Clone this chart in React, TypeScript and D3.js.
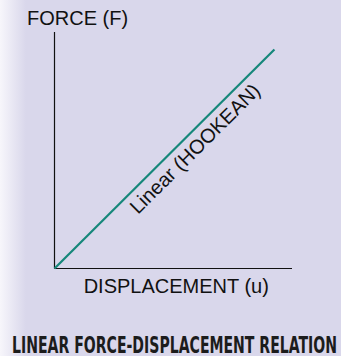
import React from "react";
import { scaleLinear, line } from "d3";

// displacement u and force F of the linear (Hookean) spring
const displacement = [0, 1];
const force = [0, 1];
const curveLabel = "Linear (HOOKEAN)";
const yLabel = "FORCE (F)";
const xLabel = "DISPLACEMENT (u)";
const caption = "LINEAR FORCE-DISPLACEMENT RELATION";

const W = 341;
const H = 356;

export default function App() {
  const x = scaleLinear().domain([0, 1.08]).range([54.5, 292]);
  const y = scaleLinear().domain([0, 1.08]).range([268.5, 32]);

  const pts = displacement.map((u, i) => [u, force[i]] as [number, number]);
  const path = line<[number, number]>()
    .x((d) => x(d[0]))
    .y((d) => y(d[1]))(pts);

  // label sits along the line, a bit below it
  const t = 0.312;
  const lx = x(displacement[0] + t * (displacement[1] - displacement[0]));
  const ly = y(force[0] + t * (force[1] - force[0]));
  const angle =
    (Math.atan2(y(force[1]) - y(force[0]), x(displacement[1]) - x(displacement[0])) * 180) /
    Math.PI;

  return (
    <div style={{ position: "fixed", left: 0, top: 0 }}>
      <svg width={W} height={H} style={{ display: "block" }}>
        <defs>
          <linearGradient id="bgFade" x1="0" x2="1" y1="0" y2="0">
            <stop offset="0" stopColor="#f7f6fb" />
            <stop offset="1" stopColor="#d9d7eb" />
          </linearGradient>
        </defs>
        <rect x={0} y={0} width={W} height={H} fill="#d9d7eb" />
        <rect x={0} y={0} width={26} height={H} fill="url(#bgFade)" />

        {/* axes */}
        <line x1={x(0)} y1={y(0)} x2={x(0)} y2={y(1.08)} stroke="#111" strokeWidth={1.2} />
        <line x1={x(0)} y1={y(0)} x2={x(1.08)} y2={y(0)} stroke="#111" strokeWidth={1.2} />

        <path d={path ?? ""} fill="none" stroke="#16877a" strokeWidth={2.2} />

        <text
          transform={`translate(${lx},${ly}) rotate(${angle})`}
          dy={21}
          fontFamily="'Liberation Sans', Arial, sans-serif"
          fontSize={20}
          fill="#111"
        >
          {curveLabel}
        </text>

        <text x={27} y={25} fontFamily="'Liberation Sans', Arial, sans-serif" fontSize={20} fill="#111">
          {yLabel}
        </text>
        <text
          x={(x(0) + x(1.08)) / 2 + 3}
          y={292.5}
          textAnchor="middle"
          fontFamily="'Liberation Sans', Arial, sans-serif"
          fontSize={20}
          fill="#111"
        >
          {xLabel}
        </text>

        <g transform="translate(12,352.5) scale(1,1.15)">
          <text
            x={0}
            y={0}
            fontFamily="'Liberation Sans Narrow', 'DejaVu Sans Condensed', sans-serif"
            fontWeight="bold"
            fontSize={20}
            textLength={325}
            lengthAdjust="spacingAndGlyphs"
            fill="#1c1c1c"
          >
            {caption}
          </text>
        </g>
      </svg>
    </div>
  );
}
